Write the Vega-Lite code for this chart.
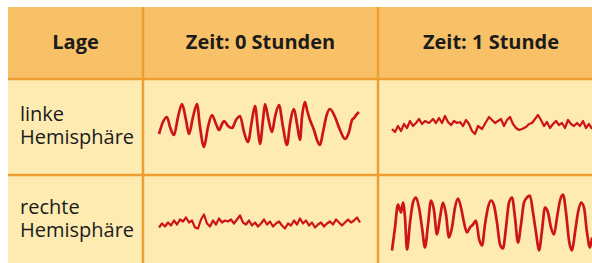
{
  "$schema": "https://vega.github.io/schema/vega-lite/v6.json",
  "background": "#ffffff",
  "padding": {"left": 6, "top": 5, "right": 2, "bottom": 1},
  "bounds": "flush",
  "align": "each",
  "columns": 3,
  "spacing": 0,
  "config": {"view": {"stroke": null}, "concat": {"spacing": 0}},
  "datasets": {
    "a": [{"t":16,"v":-7},{"t":20,"v":5},{"t":24,"v":10},{"t":27,"v":0},{"t":31,"v":-8},{"t":35,"v":10},{"t":39,"v":23},{"t":43,"v":7},{"t":46,"v":-7},{"t":50,"v":10},{"t":54,"v":23},{"t":57,"v":0},{"t":61,"v":-20},{"t":65,"v":0},{"t":69,"v":12},{"t":73,"v":3},{"t":76,"v":-3},{"t":79,"v":3},{"t":81,"v":6},{"t":85,"v":1},{"t":89,"v":-1},{"t":93,"v":7},{"t":97,"v":11},{"t":101,"v":-5},{"t":105,"v":-15},{"t":109,"v":7},{"t":112,"v":21},{"t":115,"v":-3},{"t":117,"v":-17},{"t":120,"v":7},{"t":122,"v":23},{"t":125,"v":10},{"t":129,"v":-5},{"t":132,"v":10},{"t":136,"v":22},{"t":140,"v":0},{"t":144,"v":-18},{"t":147,"v":3},{"t":151,"v":18},{"t":154,"v":3},{"t":157,"v":-13},{"t":159,"v":10},{"t":162,"v":25},{"t":164,"v":17},{"t":167,"v":7},{"t":171,"v":-3},{"t":174,"v":-13},{"t":177,"v":-18},{"t":180,"v":-5},{"t":184,"v":13},{"t":187,"v":18},{"t":192,"v":10},{"t":197,"v":-3},{"t":202,"v":-12},{"t":206,"v":-5},{"t":209,"v":7},{"t":211,"v":9},{"t":214,"v":13},{"t":216,"v":15}],
    "b": [{"t":14,"v":-2},{"t":17,"v":-5},{"t":20,"v":1},{"t":23,"v":-4},{"t":26,"v":3},{"t":29,"v":-1},{"t":32,"v":6},{"t":35,"v":1},{"t":38,"v":4},{"t":41,"v":8},{"t":44,"v":3},{"t":47,"v":6},{"t":51,"v":4},{"t":55,"v":8},{"t":58,"v":4},{"t":61,"v":9},{"t":64,"v":4},{"t":67,"v":11},{"t":70,"v":5},{"t":73,"v":2},{"t":76,"v":6},{"t":79,"v":4},{"t":82,"v":5},{"t":85,"v":1},{"t":88,"v":7},{"t":91,"v":3},{"t":94,"v":-4},{"t":97,"v":-7},{"t":100,"v":1},{"t":104,"v":-2},{"t":108,"v":5},{"t":111,"v":10},{"t":114,"v":7},{"t":117,"v":4},{"t":120,"v":6},{"t":123,"v":8},{"t":126,"v":1},{"t":129,"v":7},{"t":132,"v":10},{"t":135,"v":3},{"t":138,"v":-1},{"t":141,"v":-3},{"t":144,"v":-2},{"t":148,"v":0},{"t":151,"v":3},{"t":154,"v":4},{"t":157,"v":8},{"t":160,"v":12},{"t":163,"v":7},{"t":166,"v":1},{"t":169,"v":5},{"t":172,"v":-1},{"t":175,"v":3},{"t":178,"v":6},{"t":181,"v":2},{"t":184,"v":4},{"t":187,"v":-1},{"t":190,"v":7},{"t":193,"v":3},{"t":196,"v":1},{"t":199,"v":4},{"t":202,"v":1},{"t":205,"v":6},{"t":208,"v":-1},{"t":211,"v":3},{"t":214,"v":-2}],
    "c": [{"t":16,"v":-8},{"t":19,"v":-4},{"t":22,"v":-7},{"t":25,"v":-3},{"t":28,"v":-6},{"t":31,"v":-1},{"t":34,"v":-5},{"t":37,"v":0},{"t":40,"v":-2},{"t":43,"v":2},{"t":46,"v":-3},{"t":49,"v":-1},{"t":52,"v":-8},{"t":55,"v":-9},{"t":58,"v":0},{"t":61,"v":5},{"t":64,"v":-4},{"t":67,"v":-7},{"t":70,"v":-1},{"t":73,"v":-5},{"t":76,"v":1},{"t":79,"v":-3},{"t":82,"v":-1},{"t":85,"v":-2},{"t":88,"v":0},{"t":91,"v":-4},{"t":94,"v":0},{"t":97,"v":4},{"t":100,"v":-3},{"t":103,"v":-5},{"t":106,"v":-1},{"t":109,"v":-6},{"t":112,"v":-3},{"t":115,"v":-7},{"t":118,"v":-4},{"t":121,"v":0},{"t":124,"v":-5},{"t":127,"v":-2},{"t":130,"v":-7},{"t":133,"v":-4},{"t":136,"v":-2},{"t":139,"v":-6},{"t":142,"v":-9},{"t":145,"v":-4},{"t":148,"v":-6},{"t":151,"v":-1},{"t":154,"v":-5},{"t":157,"v":1},{"t":160,"v":-4},{"t":163,"v":-1},{"t":166,"v":-6},{"t":169,"v":-3},{"t":172,"v":-8},{"t":175,"v":-5},{"t":178,"v":-3},{"t":181,"v":-7},{"t":184,"v":-4},{"t":187,"v":-2},{"t":190,"v":-5},{"t":193,"v":0},{"t":196,"v":-3},{"t":199,"v":-6},{"t":202,"v":-3},{"t":205,"v":0},{"t":208,"v":-3},{"t":211,"v":-1},{"t":214,"v":2},{"t":217,"v":-3}],
    "d": [{"t":14,"v":-31},{"t":17,"v":-8},{"t":20,"v":15},{"t":23,"v":7},{"t":25,"v":17},{"t":27,"v":2},{"t":29,"v":-30},{"t":32,"v":-3},{"t":35,"v":17},{"t":38,"v":22},{"t":41,"v":12},{"t":44,"v":-8},{"t":47,"v":-28},{"t":50,"v":-5},{"t":53,"v":19},{"t":56,"v":9},{"t":59,"v":-15},{"t":62,"v":2},{"t":65,"v":17},{"t":68,"v":5},{"t":71,"v":-18},{"t":74,"v":-8},{"t":77,"v":12},{"t":80,"v":21},{"t":83,"v":12},{"t":86,"v":-3},{"t":89,"v":-13},{"t":92,"v":-8},{"t":95,"v":-5},{"t":98,"v":-1},{"t":101,"v":-19},{"t":104,"v":-26},{"t":107,"v":-5},{"t":110,"v":12},{"t":113,"v":19},{"t":116,"v":14},{"t":119,"v":-3},{"t":122,"v":-25},{"t":125,"v":-29},{"t":128,"v":-8},{"t":131,"v":17},{"t":134,"v":22},{"t":137,"v":2},{"t":140,"v":-23},{"t":143,"v":-5},{"t":146,"v":17},{"t":149,"v":22},{"t":152,"v":24},{"t":155,"v":7},{"t":158,"v":-13},{"t":161,"v":-31},{"t":164,"v":-11},{"t":167,"v":12},{"t":170,"v":7},{"t":173,"v":-8},{"t":176,"v":-15},{"t":179,"v":2},{"t":182,"v":19},{"t":185,"v":25},{"t":188,"v":7},{"t":191,"v":-21},{"t":194,"v":-31},{"t":197,"v":-13},{"t":200,"v":7},{"t":203,"v":17},{"t":206,"v":12},{"t":209,"v":-13},{"t":212,"v":-28},{"t":214,"v":-18}]
  },
  "concat": [
    {
      "width": 135, "height": 72,
      "view": {"fill": "#F8C168", "stroke": null},
      "data": {"values": [{"label": "Lage"}]},
      "mark": {"type": "text", "font": "Open Sans", "fontWeight": "bold", "fontSize": 20, "color": "#1b1b1b", "baseline": "middle", "dy": 0},
      "encoding": {"text": {"field": "label"}}
    },
    {
      "width": 235, "height": 72,
      "view": {"fill": "#F8C168", "stroke": null},
      "data": {"values": [{"label": "Zeit: 0 Stunden"}]},
      "layer": [
        {"mark": {"type": "text", "font": "Open Sans", "fontWeight": "bold", "fontSize": 20, "color": "#1b1b1b", "baseline": "middle", "dy": 0},
         "encoding": {"text": {"field": "label"}}},
        {"mark": {"type": "rule", "color": "#EE9E30", "strokeWidth": 2.5}, "encoding": {"x": {"value": 0}}}
      ]
    },
    {
      "width": 214, "height": 72,
      "view": {"fill": "#F8C168", "stroke": null},
      "data": {"values": [{"label": "Zeit: 1 Stunde"}]},
      "layer": [
        {"mark": {"type": "text", "font": "Open Sans", "fontWeight": "bold", "fontSize": 20, "color": "#1b1b1b", "baseline": "middle", "dy": 0, "dx": 6},
         "encoding": {"text": {"field": "label"}}},
        {"mark": {"type": "rule", "color": "#EE9E30", "strokeWidth": 2.5}, "encoding": {"x": {"value": 0}}}
      ]
    },
    {
      "width": 135, "height": 96,
      "view": {"fill": "#FDEBB2", "stroke": null},
      "data": {"values": [{"label": "linke\nHemisphäre"}]},
      "layer": [
        {"mark": {"type": "text", "font": "Open Sans", "fontSize": 20, "color": "#1b1b1b", "align": "left", "baseline": "middle", "lineHeight": 23, "lineBreak": "\n", "dx": 12, "dy": -12},
         "encoding": {"text": {"field": "label"}, "x": {"datum": 0, "type": "quantitative", "scale": {"domain": [0, 1]}, "axis": null}}},
        {"mark": {"type": "rule", "color": "#EE9E30", "strokeWidth": 2.5}, "encoding": {"y": {"value": 0}}}
      ]
    },
    {
      "width": 235, "height": 96,
      "view": {"fill": "#FDEBB2", "stroke": null},
      "layer": [
        {"data": {"name": "a"},
         "mark": {"type": "line", "color": "#CC1419", "strokeWidth": 2.7, "strokeJoin": "round", "interpolate": "monotone"},
         "encoding": {
           "x": {"field": "t", "type": "quantitative", "scale": {"domain": [0, 235], "nice": false, "zero": false}, "axis": null},
           "y": {"field": "v", "type": "quantitative", "scale": {"domain": [-48, 48], "nice": false, "zero": false}, "axis": null}
         }},
        {"data": {"values": [{}]}, "mark": {"type": "rule", "color": "#EE9E30", "strokeWidth": 2.5}, "encoding": {"y": {"value": 0}}},
        {"data": {"values": [{}]}, "mark": {"type": "rule", "color": "#EE9E30", "strokeWidth": 2.5}, "encoding": {"x": {"value": 0}}}
      ]
    },
    {
      "width": 214, "height": 96,
      "view": {"fill": "#FDEBB2", "stroke": null},
      "layer": [
        {"data": {"name": "b"},
         "mark": {"type": "line", "color": "#CC1419", "strokeWidth": 2.2, "strokeJoin": "round"},
         "encoding": {
           "x": {"field": "t", "type": "quantitative", "scale": {"domain": [0, 214], "nice": false, "zero": false}, "axis": null},
           "y": {"field": "v", "type": "quantitative", "scale": {"domain": [-48, 48], "nice": false, "zero": false}, "axis": null}
         }},
        {"data": {"values": [{}]}, "mark": {"type": "rule", "color": "#EE9E30", "strokeWidth": 2.5}, "encoding": {"y": {"value": 0}}},
        {"data": {"values": [{}]}, "mark": {"type": "rule", "color": "#EE9E30", "strokeWidth": 2.5}, "encoding": {"x": {"value": 0}}}
      ]
    },
    {
      "width": 135, "height": 89,
      "view": {"fill": "#FDEBB2", "stroke": null},
      "data": {"values": [{"label": "rechte\nHemisphäre"}]},
      "layer": [
        {"mark": {"type": "text", "font": "Open Sans", "fontSize": 20, "color": "#1b1b1b", "align": "left", "baseline": "middle", "lineHeight": 23, "lineBreak": "\n", "dx": 12, "dy": -12},
         "encoding": {"text": {"field": "label"}, "x": {"datum": 0, "type": "quantitative", "scale": {"domain": [0, 1]}, "axis": null}}},
        {"mark": {"type": "rule", "color": "#EE9E30", "strokeWidth": 2.5}, "encoding": {"y": {"value": 0}}}
      ]
    },
    {
      "width": 235, "height": 89,
      "view": {"fill": "#FDEBB2", "stroke": null},
      "layer": [
        {"data": {"name": "c"},
         "mark": {"type": "line", "color": "#CC1419", "strokeWidth": 2.2, "strokeJoin": "round"},
         "encoding": {
           "x": {"field": "t", "type": "quantitative", "scale": {"domain": [0, 235], "nice": false, "zero": false}, "axis": null},
           "y": {"field": "v", "type": "quantitative", "scale": {"domain": [-44.5, 44.5], "nice": false, "zero": false}, "axis": null}
         }},
        {"data": {"values": [{}]}, "mark": {"type": "rule", "color": "#EE9E30", "strokeWidth": 2.5}, "encoding": {"y": {"value": 0}}},
        {"data": {"values": [{}]}, "mark": {"type": "rule", "color": "#EE9E30", "strokeWidth": 2.5}, "encoding": {"x": {"value": 0}}}
      ]
    },
    {
      "width": 214, "height": 89,
      "view": {"fill": "#FDEBB2", "stroke": null},
      "layer": [
        {"data": {"name": "d"},
         "mark": {"type": "line", "color": "#CC1419", "strokeWidth": 2.7, "strokeJoin": "round", "interpolate": "monotone"},
         "encoding": {
           "x": {"field": "t", "type": "quantitative", "scale": {"domain": [0, 214], "nice": false, "zero": false}, "axis": null},
           "y": {"field": "v", "type": "quantitative", "scale": {"domain": [-44.5, 44.5], "nice": false, "zero": false}, "axis": null}
         }},
        {"data": {"values": [{}]}, "mark": {"type": "rule", "color": "#EE9E30", "strokeWidth": 2.5}, "encoding": {"y": {"value": 0}}},
        {"data": {"values": [{}]}, "mark": {"type": "rule", "color": "#EE9E30", "strokeWidth": 2.5}, "encoding": {"x": {"value": 0}}}
      ]
    }
  ]
}
